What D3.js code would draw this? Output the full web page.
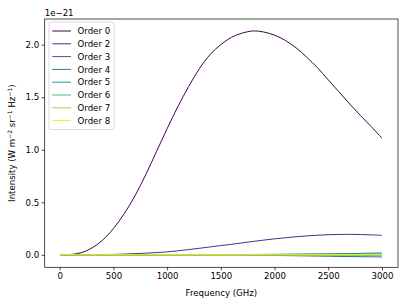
<!DOCTYPE html>
<html><head><meta charset="utf-8">
<script src="https://cdn.jsdelivr.net/npm/d3@7"></script>
<style>
html,body{margin:0;padding:0;background:#fff;}
svg text{font-family:"DejaVu Sans",sans-serif;fill:#000;}
</style></head>
<body><svg id="c" width="407" height="305"></svg>
<script>
const freq = [10,100,200,300,400,500,600,700,800,900,1000,1100,1200,1300,1400,1500,1600,1700,1800,1900,2000,2100,2200,2300,2400,2500,2600,2700,2800,2900,3000];
const order0 = [0,0.003,0.02,0.065,0.14,0.25,0.39,0.56,0.76,0.98,1.20,1.41,1.60,1.77,1.905,2.0,2.07,2.11,2.13,2.12,2.09,2.04,1.97,1.88,1.78,1.665,1.55,1.435,1.325,1.22,1.11];
const order2 = [0,0,0,0.001,0.002,0.004,0.007,0.011,0.016,0.021,0.028,0.038,0.05,0.062,0.075,0.088,0.10,0.114,0.127,0.14,0.152,0.162,0.172,0.18,0.186,0.191,0.194,0.195,0.193,0.19,0.185];
const order3 = [0,0,0,0,0,0,0,0,0,0,0,0,0,0,0,0,-0.001,-0.002,-0.003,-0.0045,-0.006,-0.0075,-0.009,-0.0105,-0.012,-0.0135,-0.015,-0.0165,-0.018,-0.019,-0.02];
const order4 = [0,0,0,0,0,0,0,0,0,0,0,0,0,0,0,0,0.001,0.002,0.003,0.004,0.005,0.006,0.007,0.008,0.009,0.01,0.011,0.012,0.014,0.016,0.018];
const order5 = [0,0,0,0,0,0,0,0,0,0,0,0,0,0,0,0,0,0.001,0.001,0.002,0.002,0.003,0.003,0.004,0.004,0.005,0.005,0.006,0.006,0.007,0.008];
const order6 = [0,0,0,0,0,0,0,0,0,0,0,0,0,0,0,0,0,-0.001,-0.001,-0.001,-0.002,-0.002,-0.003,-0.003,-0.003,-0.004,-0.004,-0.005,-0.005,-0.006,-0.006];
const order7 = [0,0,0,0,0,0,0,0,0,0,0,0,0,0,0,0,0,0,0,0,0.001,0.001,0.001,0.001,0.002,0.002,0.002,0.002,0.003,0.003,0.003];
const order8 = [0,0,0,0,0,0,0,0,0,0,0,0,0,0,0,0,0,0,0,0,0,0,0,0,0.001,0.001,0.001,0.001,0.001,0.001,0.001];
const seriesNames = ["Order 0","Order 2","Order 3","Order 4","Order 5","Order 6","Order 7","Order 8"];
const seriesColors = ["#440154","#46327e","#365c8d","#277f8e","#1fa187","#4ac16d","#a0da39","#fde725"];
const seriesValues = [order0,order2,order3,order4,order5,order6,order7,order8];
const xTicks = [0,500,1000,1500,2000,2500,3000];
const yTicks = [0,0.5,1.0,1.5,2.0];
const offsetLabel = "1e\u221221";

const svg = d3.select("#c");
const L=44.7, R=398, T=19, B=267.3;
const x = d3.scaleLinear().domain([-139.5,3149.5]).range([L,R]);
const y = d3.scaleLinear().domain([-0.1188,2.2438]).range([B,T]);

const g = svg.append("g");
const line = d3.line().x(d=>x(d[0])).y(d=>y(d[1])).curve(d3.curveCatmullRom.alpha(0.5));
seriesValues.forEach((vals,i)=>{
  g.append("path").datum(freq.map((f,j)=>[f,vals[j]]))
   .attr("d",line).attr("fill","none").attr("stroke",seriesColors[i]).attr("stroke-width",1.0);
});

const fs = 8.6;
const xAxis = svg.append("g").attr("transform",`translate(0,${B})`)
  .call(d3.axisBottom(x).tickValues(xTicks).tickSize(3.1).tickPadding(2.5).tickFormat(d3.format("d")));
const yAxis = svg.append("g").attr("transform",`translate(${L},0)`)
  .call(d3.axisLeft(y).tickValues(yTicks).tickSize(3.1).tickPadding(2.5).tickFormat(d3.format(".1f")));
[xAxis,yAxis].forEach(a=>{
  a.select(".domain").remove();
  a.selectAll("line").attr("stroke","#000").attr("stroke-width",0.7);
  a.selectAll("text").attr("font-size",fs).attr("font-family","DejaVu Sans");
});
svg.append("rect").attr("x",L).attr("y",T).attr("width",R-L).attr("height",B-T)
  .attr("fill","none").attr("stroke","#000").attr("stroke-width",0.7);

svg.append("text").attr("x",(L+R)/2).attr("y",296).attr("text-anchor","middle")
  .attr("font-size",fs).text("Frequency (GHz)");
const yl = svg.append("text").attr("transform",`translate(14.5,${(T+B)/2}) rotate(-90)`)
  .attr("text-anchor","middle").attr("font-size",fs);
yl.append("tspan").text("Intensity (W m");
yl.append("tspan").attr("dy",-3).attr("font-size",6).text("\u22122");
yl.append("tspan").attr("dy",3).text(" sr");
yl.append("tspan").attr("dy",-3).attr("font-size",6).text("\u22121");
yl.append("tspan").attr("dy",3).text(" Hz");
yl.append("tspan").attr("dy",-3).attr("font-size",6).text("\u22121");
yl.append("tspan").attr("dy",3).text(")");

svg.append("text").attr("x",L).attr("y",15.5).attr("font-size",fs).text(offsetLabel);

const lg = svg.append("g");
lg.append("rect").attr("x",49).attr("y",22).attr("width",65).attr("height",107.5).attr("rx",2)
  .attr("fill","#fff").attr("fill-opacity",0.8).attr("stroke","#ccc").attr("stroke-width",0.7);
seriesNames.forEach((n,i)=>{
  const yy = 31 + i*12.8;
  lg.append("line").attr("x1",52.3).attr("x2",71).attr("y1",yy).attr("y2",yy)
    .attr("stroke",seriesColors[i]).attr("stroke-width",1.0);
  lg.append("text").attr("x",77.5).attr("y",yy+3.1).attr("font-size",fs).text(n);
});
</script></body></html>
